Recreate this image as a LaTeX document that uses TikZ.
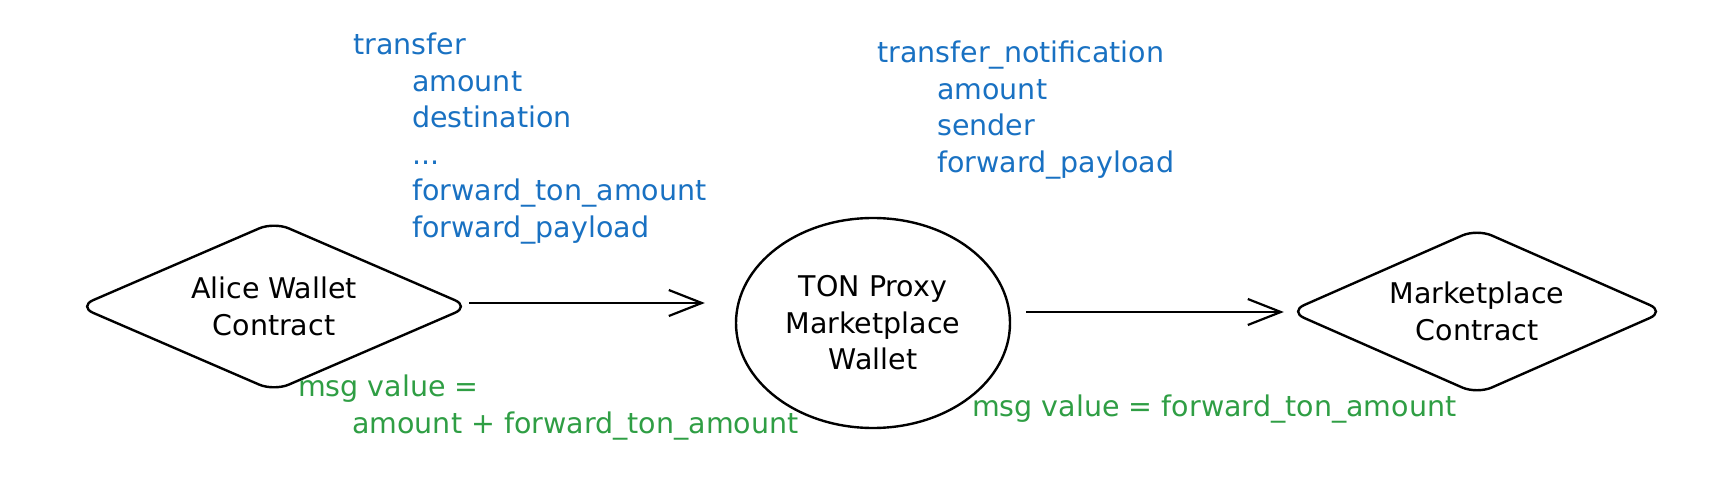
\documentclass[tikz,border=0pt]{standalone}
\usepackage{fontspec}
\setmainfont{DejaVu Sans}
\usetikzlibrary{shapes.geometric,arrows.meta}
\definecolor{xblue}{HTML}{1971C2}
\definecolor{xgreen}{HTML}{2F9E44}

\begin{document}
\begin{tikzpicture}[x=1pt,y=-1pt,
	hand/.style={font=\fontsize{28.5}{36.5}\selectfont},
	contract/.style={draw,line width=2.4pt,diamond,aspect=2.3,rounded corners=16pt,inner sep=0pt,align=center,hand},
	wallet/.style={draw,line width=2.4pt,ellipse,inner sep=0pt,align=center,hand},
	flow/.style={line width=2.6pt,-{Straight Barb[length=33pt,width=26pt,line width=2.2pt]}},
	msglbl/.style={hand,text=xblue,align=left,anchor=base west,inner sep=0pt},
	vallbl/.style={hand,text=xgreen,align=left,anchor=base west,inner sep=0pt}]
			%%%%% START %%%%%
			
			\useasboundingbox (0, 0) rectangle (1736, 494);
			
			\node[contract, minimum width=392pt, minimum height=170pt] (alice) at (274, 306.5) {Alice Wallet\\Contract};
			\node[wallet, minimum width=274pt, minimum height=210pt] (proxy) at (873, 323) {TON Proxy\\Marketplace\\Wallet};
			\node[contract, minimum width=376pt, minimum height=166pt] (market) at (1477, 311.5) {Marketplace\\Contract};
			
			\coordinate (s1) at ([xshift=-2pt, yshift=3.5pt]alice.east);
			\coordinate (t1) at (s1 -| proxy.west);
			\draw[flow] (s1) -- ([xshift=-30pt]t1);
			
			\coordinate (s2) at ([xshift=15pt, yshift=11pt]proxy.east);
			\coordinate (t2) at (s2 -| market.west);
			\draw[flow] (s2) -- ([xshift=-4pt]t2);
			
			% base = last line of each block
			\node[msglbl] (xferlbl) at (353, 237.5) {transfer\\
				\hspace*{59pt}amount\\
				\hspace*{59pt}destination\\
				\hspace*{59pt}...\\
				\hspace*{59pt}forward\_ton\_amount\\
				\hspace*{59pt}forward\_payload};
			\node[msglbl] (notiflbl) at (877, 172.5) {transfer\_notification\\
				\hspace*{60pt}amount\\
				\hspace*{60pt}sender\\
				\hspace*{60pt}forward\_payload};
			
			\node[vallbl] (valA) at (298, 433) {msg value =\\
				\hspace*{54pt}amount + forward\_ton\_amount};
			\node[vallbl] (valB) at (972, 416) {msg value = forward\_ton\_amount};
			
			%%%%% END %%%%%
\end{tikzpicture}
\end{document}
